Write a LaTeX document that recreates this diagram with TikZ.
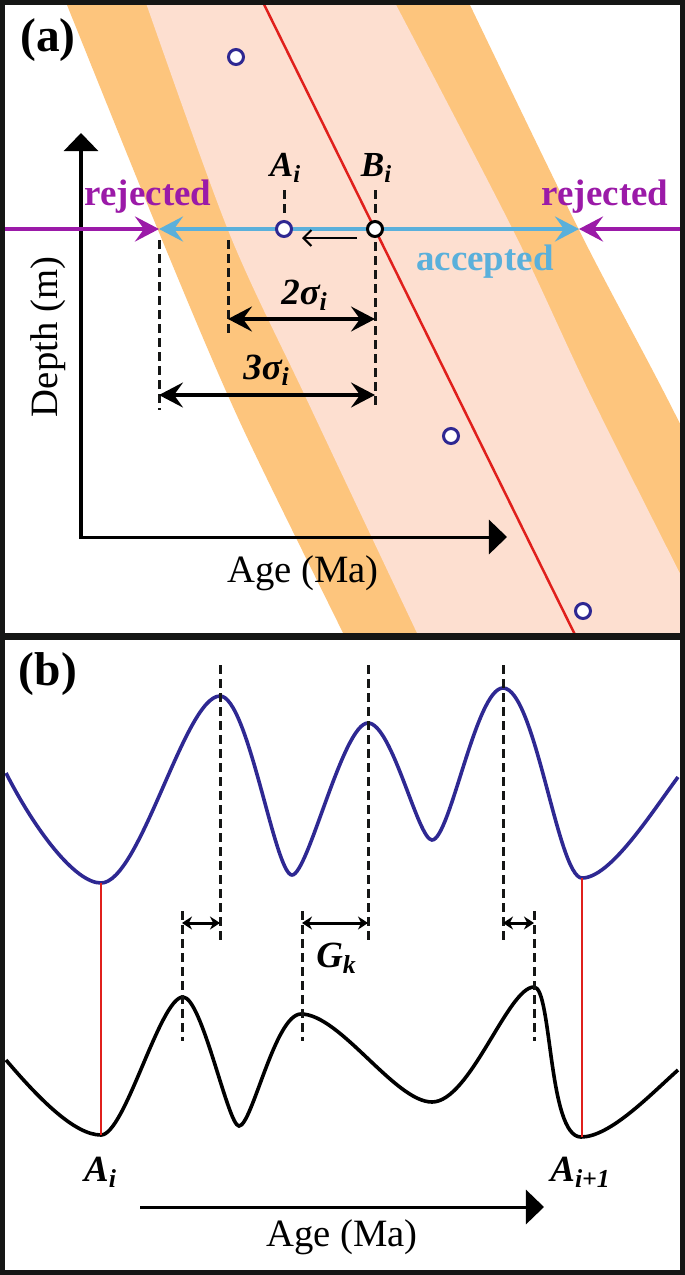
\documentclass[tikz,border=0pt]{standalone}
\usepackage{fontspec}
\setmainfont{Liberation Serif}
\usetikzlibrary{arrows.meta}

\definecolor{bandorange}{RGB}{253,197,125}
\definecolor{bandpink}{RGB}{253,223,208}
\definecolor{fitred}{RGB}{224,32,28}
\definecolor{dotblue}{RGB}{46,40,146}
\definecolor{rejpurple}{RGB}{155,26,168}
\definecolor{acccyan}{RGB}{90,176,219}
\definecolor{frameblack}{RGB}{21,22,21}

\newcommand{\lbl}[1]{{\bfseries\itshape #1}}

\begin{document}
\begin{tikzpicture}[x=0.01cm, y=-0.01cm,
    datum/.style={circle, draw=dotblue, fill=white, line width=0.03cm, minimum size=0.15cm, inner sep=0pt},
    guide/.style={draw=frameblack, line width=0.03cm, dash pattern=on 0.09cm off 0.05cm},
    dim/.style={line width=0.032cm, {Stealth[length=0.24cm, width=0.25cm, inset=0.09cm]}-{Stealth[length=0.24cm, width=0.25cm, inset=0.09cm]}},
    gap/.style={line width=0.03cm, {Stealth[length=0.1cm, width=0.13cm]}-{Stealth[length=0.1cm, width=0.13cm]}},
    axis/.style={line width=0.03cm, -{Triangle[length=0.18cm, width=0.34cm]}},
    rangeline/.style={line width=0.038cm},
    curve/.style={line width=0.036cm},
    axislabel/.style={font=\fontsize{11}{13}\selectfont},
    tag/.style={font=\fontsize{10.5}{12}\selectfont\bfseries},
    panel/.style={font=\fontsize{13.5}{15}\selectfont\bfseries}]
    \useasboundingbox (0,0) rectangle (685,1275);

    % Panel (a): bands and fit line
    \begin{scope}
        \clip (5,4) rectangle (680,634);
        \fill[bandorange] plot[smooth] coordinates {(57,-20) (158,230) (239,420) (343,633) (360,670)}
            -- plot[smooth] coordinates {(803,670) (785,633) (668,400) (579,230) (458,-20)} -- cycle;
        \fill[bandpink] plot[smooth] coordinates {(138,-20) (228,230) (307,400) (417,633) (435,670)}
            -- plot[smooth] coordinates {(728,670) (710,633) (593,400) (513,230) (383,-20)} -- cycle;
        \draw[fitred, line width=0.025cm] (252,-20) -- (585,655);
    \end{scope}

    % Axes
    \coordinate (origin) at (81,537);
    \coordinate (ytip) at (81,133);
    \coordinate (xtip) at (507,537);
    \draw[axis] (81,539) -- (ytip);
    \draw[axis] (origin) -- (xtip);
    \node[axislabel, rotate=90] (depth) at (48,337) {Depth (m)};
    \node[axislabel] (agea) at (303,573) {Age (Ma)};

    % Accepted and rejected ranges
    \coordinate (lborder) at (5,229);
    \coordinate (rborder) at (680,229);
    \coordinate (lim-l) at (159,229);
    \coordinate (lim-r) at (579,229);
    \draw[rangeline, rejpurple, -{Stealth[length=0.24cm, width=0.25cm, inset=0.09cm]}] (lborder) -- (lim-l);
    \draw[rangeline, rejpurple, -{Stealth[length=0.24cm, width=0.25cm, inset=0.09cm]}] (rborder) -- (lim-r);
    \draw[rangeline, acccyan, {Stealth[length=0.24cm, width=0.25cm, inset=0.09cm]}-{Stealth[length=0.24cm, width=0.25cm, inset=0.09cm]}] (lim-l) -- (lim-r);
    \node[tag, rejpurple] (rej-l) at (148,197) {rejected};
    \node[tag, rejpurple] (rej-r) at (605,197) {rejected};
    \node[tag, acccyan] (acc) at (485,262) {accepted};

    % Data points
    \node[datum] (pt-1) at (236,57) {};
    \node[datum] (pt-A) at (284,229) {};
    \node[datum, draw=black] (pt-B) at (375,229) {};
    \node[datum] (pt-3) at (451,436) {};
    \node[datum] (pt-4) at (583,611) {};
    \node[font=\fontsize{10}{12}\selectfont] (lbl-A) at (286,168) {\lbl{A\textsubscript{i}}};
    \node[font=\fontsize{10}{12}\selectfont] (lbl-B) at (377,168) {\lbl{B\textsubscript{i}}};
    \coordinate (A-top) at (284,190);
    \coordinate (B-top) at (375,190);
    \draw[guide, shorten >=0.05cm] (A-top) -- (pt-A);
    \draw[guide, shorten >=0.05cm] (B-top) -- (pt-B);
    \coordinate (shift-s) at (357,238);
    \coordinate (shift-e) at (302,238);
    \draw[line width=0.02cm, -{Straight Barb[length=0.08cm, width=0.16cm]}] (shift-s) -- (shift-e);

    % Sigma limits
    \coordinate (s3-top) at (159,240);
    \coordinate (s3-bot) at (159,410);
    \coordinate (s2-top) at (228,240);
    \coordinate (s2-bot) at (228,335);
    \coordinate (B-bot) at (375,410);
    \draw[guide] (s3-top) -- (s3-bot);
    \draw[guide] (s2-top) -- (s2-bot);
    \draw[guide, shorten <=0.04cm] (pt-B) -- (B-bot);
    \coordinate (s2-l) at (228,319);
    \coordinate (s2-r) at (375,319);
    \coordinate (s3-l) at (159,395);
    \coordinate (s3-r) at (375,395);
    \draw[dim] (s2-l) -- (s2-r);
    \draw[dim] (s3-l) -- (s3-r);
    \node[font=\fontsize{10.5}{12}\selectfont] (sig-2) at (305,295) {\lbl{2σ\textsubscript{i}}};
    \node[font=\fontsize{10.5}{12}\selectfont] (sig-3) at (267,370) {\lbl{3σ\textsubscript{i}}};

    % Panel (b): curves
    \begin{scope}
        \clip (5,640) rectangle (680,1270);
        \draw[curve, dotblue] (6,773) .. controls (35,830) and (75,883) .. (101,883)
            .. controls (140,883) and (185,696) .. (220,696)
            .. controls (248,696) and (275,875) .. (292,875)
            .. controls (308,875) and (343,723) .. (368,723)
            .. controls (392,723) and (418,840) .. (432,840)
            .. controls (450,840) and (476,688) .. (503,688)
            .. controls (535,688) and (558,878) .. (582,878)
            .. controls (610,878) and (650,815) .. (678,777);
        \draw[curve, black] (6,1060) .. controls (40,1100) and (75,1135) .. (101,1135)
            .. controls (125,1135) and (160,997) .. (183,997)
            .. controls (202,997) and (228,1126) .. (239,1126)
            .. controls (252,1126) and (275,1014) .. (301,1014)
            .. controls (340,1014) and (395,1102) .. (432,1102)
            .. controls (470,1102) and (508,987) .. (534,987)
            .. controls (552,987) and (548,1137) .. (581,1137)
            .. controls (610,1137) and (650,1095) .. (678,1070);
    \end{scope}

    % Panel (b): minima and peak offsets
    \coordinate (minA-top) at (101,883);
    \coordinate (minA-bot) at (101,1135);
    \coordinate (minB-top) at (582,878);
    \coordinate (minB-bot) at (582,1137);
    \draw[fitred, line width=0.025cm] (minA-top) -- (minA-bot);
    \draw[fitred, line width=0.025cm] (minB-top) -- (minB-bot);
    \coordinate (up-1a) at (220,665);
    \coordinate (up-1b) at (220,943);
    \coordinate (up-2a) at (368,665);
    \coordinate (up-2b) at (368,943);
    \coordinate (up-3a) at (503,665);
    \coordinate (up-3b) at (503,943);
    \coordinate (lo-1a) at (182,911);
    \coordinate (lo-1b) at (182,1041);
    \coordinate (lo-2a) at (302,911);
    \coordinate (lo-2b) at (302,1041);
    \coordinate (lo-3a) at (534,911);
    \coordinate (lo-3b) at (534,1041);
    \draw[guide] (up-1a) -- (up-1b);
    \draw[guide] (up-2a) -- (up-2b);
    \draw[guide] (up-3a) -- (up-3b);
    \draw[guide] (lo-1a) -- (lo-1b);
    \draw[guide] (lo-2a) -- (lo-2b);
    \draw[guide] (lo-3a) -- (lo-3b);
    \coordinate (gap-1l) at (182,923);
    \coordinate (gap-1r) at (220,923);
    \coordinate (gap-2l) at (302,923);
    \coordinate (gap-2r) at (368,923);
    \coordinate (gap-3l) at (503,923);
    \coordinate (gap-3r) at (534,923);
    \draw[gap] (gap-1l) -- (gap-1r);
    \draw[gap] (gap-2l) -- (gap-2r);
    \draw[gap] (gap-3l) -- (gap-3r);
    \node[font=\fontsize{10.5}{12}\selectfont] (lbl-G) at (337,958) {\lbl{G\textsubscript{k}}};
    \node[font=\fontsize{10.5}{12}\selectfont] (lbl-Ai) at (101,1172) {\lbl{A\textsubscript{i}}};
    \node[font=\fontsize{10.5}{12}\selectfont] (lbl-Aj) at (581,1172) {\lbl{A\textsubscript{i+1}}};
    \coordinate (age-s) at (140,1207);
    \coordinate (age-e) at (544,1207);
    \draw[axis] (age-s) -- (age-e);
    \node[axislabel] (ageb) at (342,1237) {Age (Ma)};

    % Frame and panel tags
    \draw[frameblack, line width=0.05cm] (2.5,2.5) rectangle (682.5,1272.5);
    \draw[frameblack, line width=0.07cm] (0,636.5) -- (685,636.5);
    \node[panel] (tag-a) at (48,40) {(a)};
    \node[panel] (tag-b) at (48,674) {(b)};
\end{tikzpicture}
\end{document}
